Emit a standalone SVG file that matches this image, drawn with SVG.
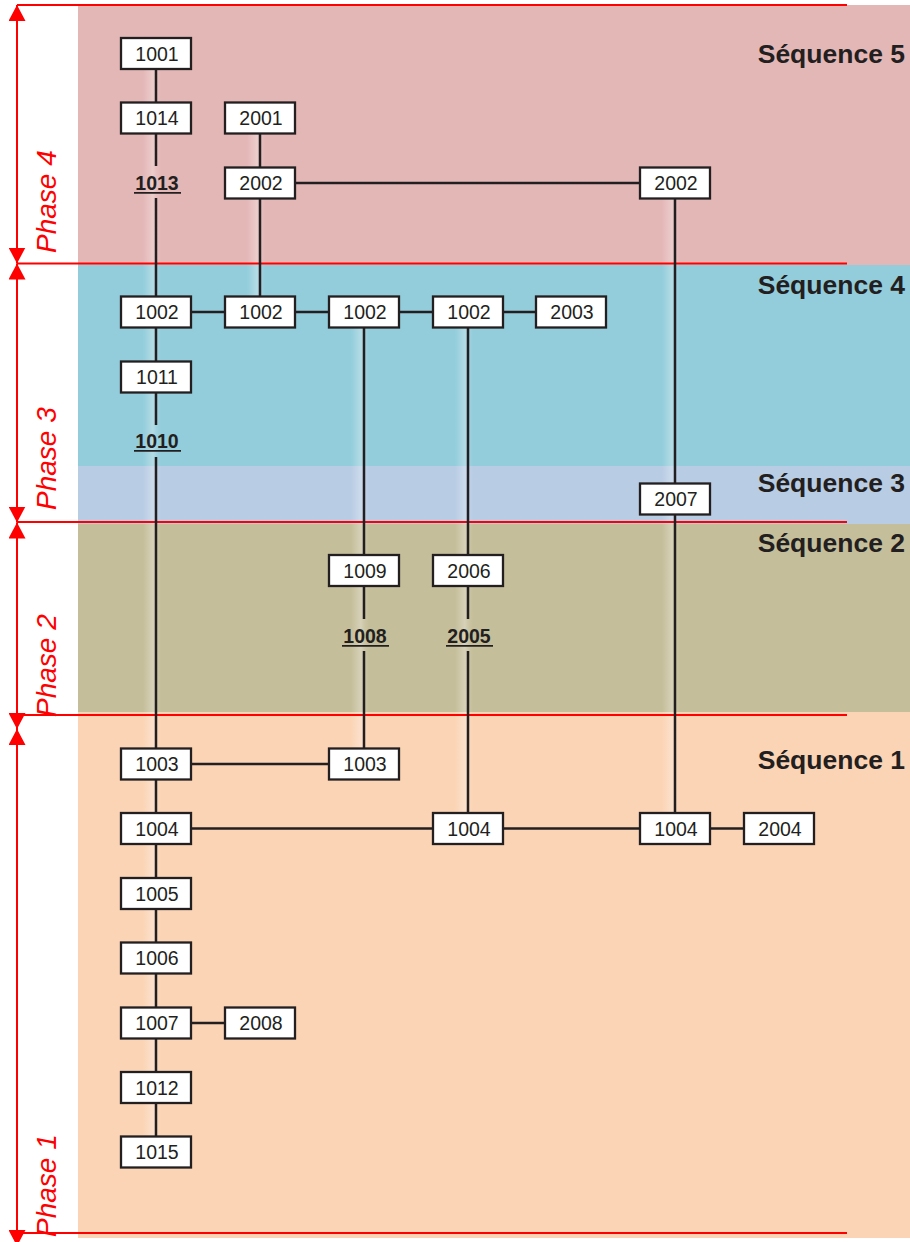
<svg xmlns="http://www.w3.org/2000/svg" width="910" height="1242" viewBox="0 0 910 1242">
<style>
.box{fill:#fff;stroke:#231f20;stroke-width:2.3}
.nt{font-family:"Liberation Sans",Arial,sans-serif;font-size:19.5px;fill:#231f20;text-anchor:middle}
.ul{font-family:"Liberation Sans",Arial,sans-serif;font-size:19.5px;font-weight:bold;fill:#231f20;text-anchor:middle}
.seq{font-family:"Liberation Sans",Arial,sans-serif;font-size:26.5px;font-weight:bold;fill:#231f20;text-anchor:end}
.ph{font-family:"Liberation Sans",Arial,sans-serif;font-size:28px;font-style:italic;fill:#ff0000}
.con{stroke:#231f20;stroke-width:2.5;fill:none}
.red{stroke:#ff0000;stroke-width:2;fill:none}
.glow{fill:url(#glow)}
</style>
<defs>
<linearGradient id="glow" x1="0" y1="0" x2="1" y2="0">
<stop offset="0" stop-color="#fff" stop-opacity="0"/>
<stop offset="0.55" stop-color="#fff" stop-opacity="0.3"/>
<stop offset="0.75" stop-color="#fff" stop-opacity="0.12"/>
<stop offset="1" stop-color="#fff" stop-opacity="0"/>
</linearGradient>
<marker id="ah" viewBox="0 0 16 17" refX="16" refY="8.5" markerWidth="16" markerHeight="17" orient="auto-start-reverse" markerUnits="userSpaceOnUse">
<path d="M0,0 L16,8.5 L0,17 z" fill="#ff0000"/>
</marker>
</defs>

<g id="bands">
<rect x="78" y="5" width="832" height="260" fill="#e4b7b7"/>
<rect x="78" y="265" width="832" height="201" fill="#93cddb"/>
<rect x="78" y="466" width="832" height="58" fill="#b8cce4"/>
<rect x="78" y="524" width="832" height="188" fill="#c5be9a"/>
<rect x="78" y="712" width="832" height="526" fill="#fbd4b5"/>
</g>

<g id="glows">
<rect class="glow" x="143" y="69" width="18" height="1067"/>
<rect class="glow" x="247" y="133" width="18" height="163"/>
<rect class="glow" x="351" y="328" width="18" height="420"/>
<rect class="glow" x="455" y="328" width="18" height="485"/>
<rect class="glow" x="662" y="198" width="18" height="615"/>
</g>

<g id="sequences">
<text class="seq" x="905" y="63">Séquence 5</text>
<text class="seq" x="905" y="294">Séquence 4</text>
<text class="seq" x="905" y="492">Séquence 3</text>
<text class="seq" x="905" y="552">Séquence 2</text>
<text class="seq" x="905" y="769">Séquence 1</text>
</g>

<g id="phases">
<line class="red" x1="17" y1="5" x2="847" y2="5"/>
<line class="red" x1="17" y1="263.5" x2="847" y2="263.5"/>
<line class="red" x1="17" y1="522" x2="847" y2="522"/>
<line class="red" x1="17" y1="715" x2="847" y2="715"/>
<line class="red" x1="17" y1="1233" x2="847" y2="1233"/>
<line class="red" x1="17" y1="5" x2="17" y2="263.5" marker-start="url(#ah)" marker-end="url(#ah)"/>
<line class="red" x1="17" y1="263.5" x2="17" y2="522.5" marker-start="url(#ah)" marker-end="url(#ah)"/>
<line class="red" x1="17" y1="522.5" x2="17" y2="729" marker-start="url(#ah)" marker-end="url(#ah)"/>
<line class="red" x1="17" y1="729" x2="17" y2="1246" marker-start="url(#ah)" marker-end="url(#ah)"/>
<text class="ph" transform="translate(56,253) rotate(-90)">Phase 4</text>
<text class="ph" transform="translate(56,510) rotate(-90)">Phase 3</text>
<text class="ph" transform="translate(56,717) rotate(-90)">Phase 2</text>
<text class="ph" transform="translate(56,1237) rotate(-90)">Phase 1</text>
</g>

<g id="connectors">
<line class="con" x1="156" y1="69" x2="156" y2="166"/>
<line class="con" x1="156" y1="198" x2="156" y2="425"/>
<line class="con" x1="156" y1="457" x2="156" y2="1136"/>
<line class="con" x1="260" y1="133" x2="260" y2="296"/>
<line class="con" x1="364" y1="328" x2="364" y2="619"/>
<line class="con" x1="364" y1="651" x2="364" y2="748"/>
<line class="con" x1="468" y1="328" x2="468" y2="619"/>
<line class="con" x1="468" y1="651" x2="468" y2="813"/>
<line class="con" x1="675" y1="198" x2="675" y2="813"/>
<line class="con" x1="295" y1="183" x2="640" y2="183"/>
<line class="con" x1="191" y1="312" x2="536" y2="312"/>
<line class="con" x1="191" y1="764" x2="329" y2="764"/>
<line class="con" x1="191" y1="828.5" x2="744" y2="828.5"/>
<line class="con" x1="191" y1="1023" x2="225" y2="1023"/>
</g>

<g id="n1001"><rect class="box" x="121" y="38" width="70" height="31"/><text class="nt" x="157" y="60.5">1001</text></g>
<g id="n1014"><rect class="box" x="121" y="102.5" width="70" height="31"/><text class="nt" x="157" y="125">1014</text></g>
<g id="n2001"><rect class="box" x="225" y="102.5" width="70" height="31"/><text class="nt" x="261" y="125">2001</text></g>
<g id="n1013"><text class="ul" x="157" y="190">1013</text><line x1="134" y1="192.8" x2="181" y2="192.8" stroke="#231f20" stroke-width="1.8"/></g>
<g id="n2002a"><rect class="box" x="225" y="167.5" width="70" height="31"/><text class="nt" x="261" y="190">2002</text></g>
<g id="n2002b"><rect class="box" x="640" y="167.5" width="70" height="31"/><text class="nt" x="676" y="190">2002</text></g>
<g id="n1002a"><rect class="box" x="121" y="296.5" width="70" height="31"/><text class="nt" x="157" y="319">1002</text></g>
<g id="n1002b"><rect class="box" x="225" y="296.5" width="70" height="31"/><text class="nt" x="261" y="319">1002</text></g>
<g id="n1002c"><rect class="box" x="329" y="296.5" width="70" height="31"/><text class="nt" x="365" y="319">1002</text></g>
<g id="n1002d"><rect class="box" x="433" y="296.5" width="70" height="31"/><text class="nt" x="469" y="319">1002</text></g>
<g id="n2003"><rect class="box" x="536" y="296.5" width="70" height="31"/><text class="nt" x="572" y="319">2003</text></g>
<g id="n1011"><rect class="box" x="121" y="361.5" width="70" height="31"/><text class="nt" x="157" y="384">1011</text></g>
<g id="n1010"><text class="ul" x="157" y="448">1010</text><line x1="134" y1="450.8" x2="181" y2="450.8" stroke="#231f20" stroke-width="1.8"/></g>
<g id="n2007"><rect class="box" x="640" y="483.5" width="70" height="31"/><text class="nt" x="676" y="506">2007</text></g>
<g id="n1009"><rect class="box" x="329" y="555" width="70" height="31"/><text class="nt" x="365" y="577.5">1009</text></g>
<g id="n2006"><rect class="box" x="433" y="555" width="70" height="31"/><text class="nt" x="469" y="577.5">2006</text></g>
<g id="n1008"><text class="ul" x="365" y="643">1008</text><line x1="342" y1="645.8" x2="389" y2="645.8" stroke="#231f20" stroke-width="1.8"/></g>
<g id="n2005"><text class="ul" x="469" y="643">2005</text><line x1="446" y1="645.8" x2="493" y2="645.8" stroke="#231f20" stroke-width="1.8"/></g>
<g id="n1003a"><rect class="box" x="121" y="748.5" width="70" height="31"/><text class="nt" x="157" y="771">1003</text></g>
<g id="n1003b"><rect class="box" x="329" y="748.5" width="70" height="31"/><text class="nt" x="365" y="771">1003</text></g>
<g id="n1004a"><rect class="box" x="121" y="813" width="70" height="31"/><text class="nt" x="157" y="835.5">1004</text></g>
<g id="n1004b"><rect class="box" x="433" y="813" width="70" height="31"/><text class="nt" x="469" y="835.5">1004</text></g>
<g id="n1004c"><rect class="box" x="640" y="813" width="70" height="31"/><text class="nt" x="676" y="835.5">1004</text></g>
<g id="n2004"><rect class="box" x="744" y="813" width="70" height="31"/><text class="nt" x="780" y="835.5">2004</text></g>
<g id="n1005"><rect class="box" x="121" y="878" width="70" height="31"/><text class="nt" x="157" y="900.5">1005</text></g>
<g id="n1006"><rect class="box" x="121" y="942.5" width="70" height="31"/><text class="nt" x="157" y="965">1006</text></g>
<g id="n1007"><rect class="box" x="121" y="1007.5" width="70" height="31"/><text class="nt" x="157" y="1030">1007</text></g>
<g id="n2008"><rect class="box" x="225" y="1007.5" width="70" height="31"/><text class="nt" x="261" y="1030">2008</text></g>
<g id="n1012"><rect class="box" x="121" y="1072" width="70" height="31"/><text class="nt" x="157" y="1094.5">1012</text></g>
<g id="n1015"><rect class="box" x="121" y="1136.5" width="70" height="31"/><text class="nt" x="157" y="1159">1015</text></g>
</svg>
